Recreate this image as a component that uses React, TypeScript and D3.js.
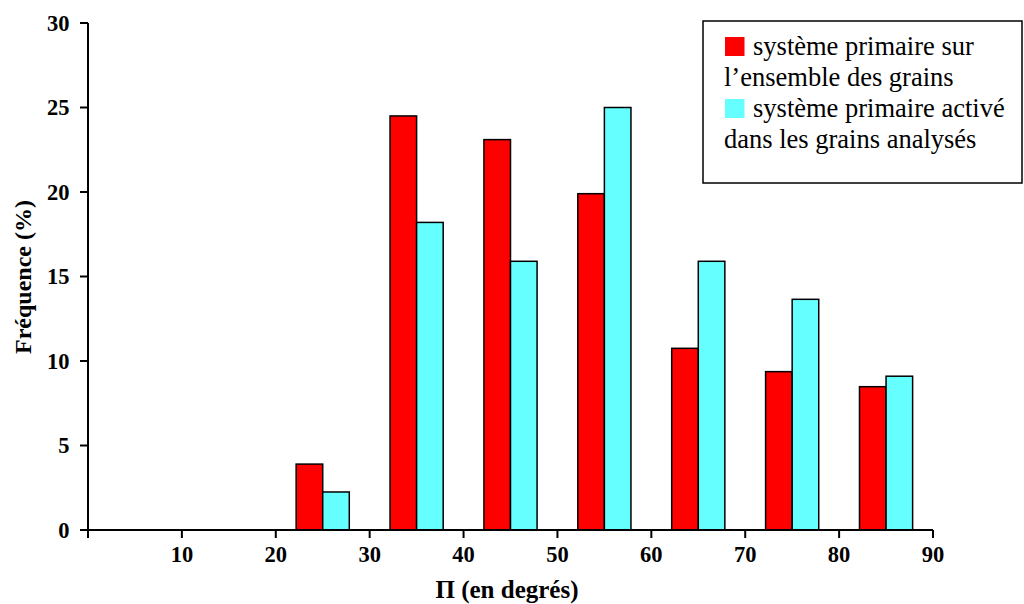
import React from "react";
import * as d3 from "d3";

const centers = [25, 35, 45, 55, 65, 75, 85];
const redValues = [3.9, 24.5, 23.1, 19.9, 10.75, 9.37, 8.48];
const cyanValues = [2.25, 18.2, 15.9, 25.0, 15.9, 13.65, 9.1];
const xTicks = [10, 20, 30, 40, 50, 60, 70, 80, 90];
const yTicks = [0, 5, 10, 15, 20, 25, 30];
const legendLines = [
  "système primaire sur",
  "l\u2019ensemble des grains",
  "système primaire activé",
  "dans les grains analysés",
];

const W = 1024;
const H = 604;
const RED = "#FF0000";
const CYAN = "#66FFFF";
const FONT = "Liberation Serif, DejaVu Serif, serif";

export default function App() {
  const x = d3.scaleLinear().domain([0, 90]).range([88, 933]);
  const y = d3.scaleLinear().domain([0, 30]).range([530, 23]);
  const halfW = 2.83;

  return (
    <svg
      width={W}
      height={H}
      style={{ position: "absolute", left: 0, top: 0, background: "#fff", fontFamily: FONT }}
    >
      {/* bars */}
      {centers.map((c, i) => (
        <g key={c}>
          <rect
            x={x(c - halfW)}
            y={y(redValues[i])}
            width={x(c) - x(c - halfW)}
            height={y(0) - y(redValues[i])}
            fill={RED}
            stroke="#000"
            strokeWidth={1.5}
          />
          <rect
            x={x(c)}
            y={y(cyanValues[i])}
            width={x(c + halfW) - x(c)}
            height={y(0) - y(cyanValues[i])}
            fill={CYAN}
            stroke="#000"
            strokeWidth={1.5}
          />
        </g>
      ))}

      {/* y axis */}
      <line x1={x(0)} x2={x(0)} y1={y(30)} y2={y(0) + 8} stroke="#000" strokeWidth={2} />
      {yTicks.map((t) => (
        <g key={"y" + t}>
          <line x1={x(0) - 8} x2={x(0)} y1={y(t)} y2={y(t)} stroke="#000" strokeWidth={2} />
          <text
            x={x(0) - 18.5}
            y={y(t)}
            dy="0.35em"
            textAnchor="end"
            fontSize={22.5}
            fontWeight="bold"
            style={{ fontFamily: FONT }}
          >
            {t}
          </text>
        </g>
      ))}

      {/* x axis */}
      <line x1={x(0) - 8} x2={x(90)} y1={y(0)} y2={y(0)} stroke="#000" strokeWidth={2} />
      {xTicks.map((t) => (
        <g key={"x" + t}>
          <line x1={x(t)} x2={x(t)} y1={y(0)} y2={y(0) + 8} stroke="#000" strokeWidth={2} />
          <text
            x={x(t)}
            y={y(0) + 32}
            textAnchor="middle"
            fontSize={22.5}
            fontWeight="bold"
            style={{ fontFamily: FONT }}
          >
            {t}
          </text>
        </g>
      ))}

      {/* axis titles */}
      <text x={507} y={598} textAnchor="middle" fontSize={25} fontWeight="bold" style={{ fontFamily: FONT }}>
        Π (en degrés)
      </text>
      <text
        transform={`translate(31, 277) rotate(-90)`}
        textAnchor="middle"
        fontSize={24}
        fontWeight="bold"
        style={{ fontFamily: FONT }}
      >
        Fréquence (%)
      </text>

      {/* legend */}
      <rect x={703} y={21} width={319} height={162} fill="#fff" stroke="#000" strokeWidth={1.5} />
      <rect x={725} y={37} width={19.5} height={19} fill={RED} />
      <rect x={725} y={99} width={19.5} height={19} fill={CYAN} />
      <g style={{ fontFamily: FONT }} fontSize={26.5}>
        <text x={753} y={55}>{legendLines[0]}</text>
        <text x={724} y={86}>{legendLines[1]}</text>
        <text x={753} y={117}>{legendLines[2]}</text>
        <text x={724} y={148}>{legendLines[3]}</text>
      </g>
    </svg>
  );
}
